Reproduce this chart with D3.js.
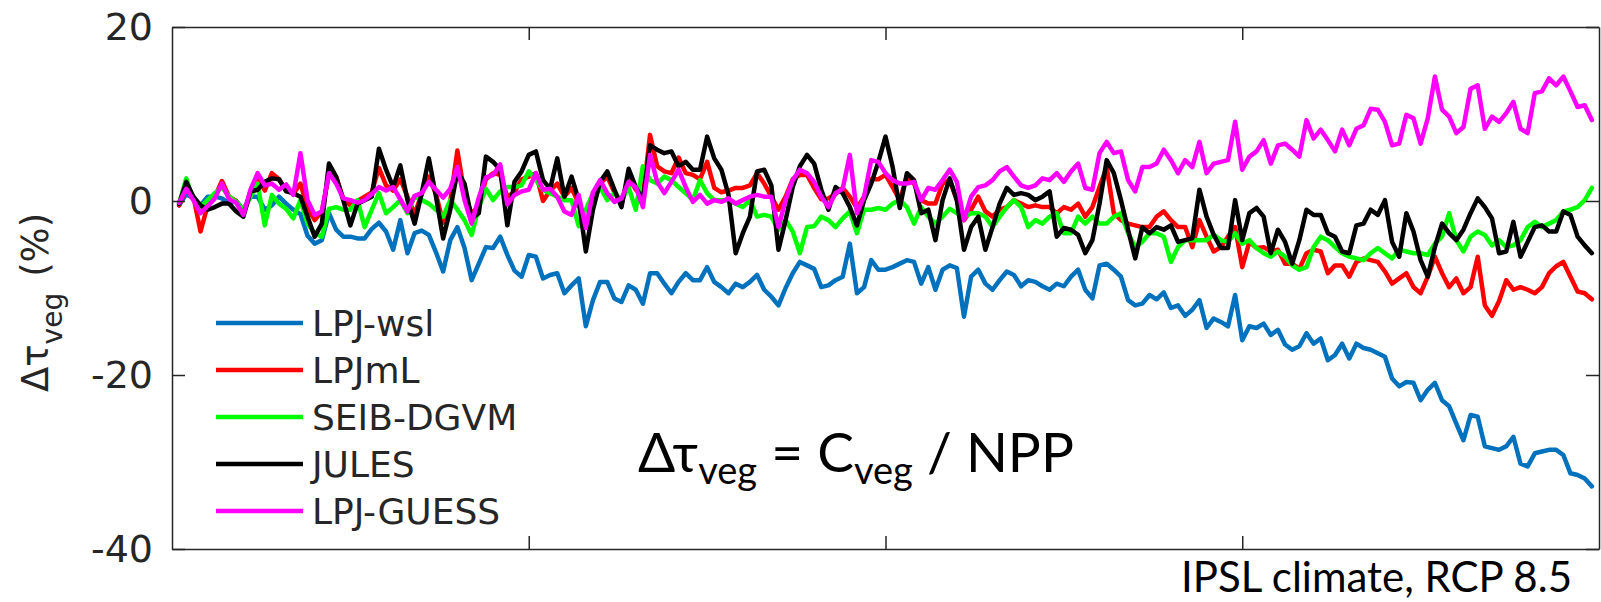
<!DOCTYPE html>
<html>
<head>
<meta charset="utf-8">
<script src="https://cdn.jsdelivr.net/npm/d3@7"></script>
<style>
  html, body { margin: 0; padding: 0; background: #fff; }
  svg { display: block; }
</style>
</head>
<body>
<svg id="chart" width="1601" height="602"></svg>
<script>
// Annual change in vegetation carbon residence time (%), 1901-2099
const years = d3.range(1901, 2100);

const lpjWsl = [
  -0.5, 0.8, 0.3, -0.5, 0.5, 0.5, 0.3, -0.3, 0.0, -1.0, 0.5, 0.5, -1.0, -0.5, 0.5, -0.3, -1.0, -1.5, -4.0, -4.9,
  -4.5, -1.4, -3.3, -4.1, -4.1, -4.3, -4.3, -3.2, -2.5, -3.5, -5.6, -2.2, -6.0, -3.7, -3.4, -3.9, -5.9, -8.1, -4.5, -3.0,
  -5.4, -9.1, -7.2, -5.3, -5.4, -4.1, -6.2, -8.0, -8.7, -6.2,
  -6.4, -8.9, -8.5, -8.3, -10.6, -9.7, -8.9, -14.4, -11.4, -9.3, -9.3, -11.2, -11.6, -9.7, -10.2, -11.8, -8.3, -8.3, -9.5, -10.6,
  -9.3, -8.3, -9.1, -9.1, -7.6, -9.3, -9.9, -10.6, -9.5, -9.9, -9.3, -8.5, -10.2, -11.0, -12.0, -10.0, -8.3, -7.0, -7.4, -7.8,
  -9.9, -9.7, -9.1, -8.7, -4.9, -10.6, -9.9, -6.8, -7.9, -7.9,
  -7.6, -7.2, -6.8, -7.0, -9.5, -7.6, -10.2, -7.9, -7.4, -7.7, -13.3, -8.7, -7.9, -9.5, -10.2, -9.1, -8.1, -8.5, -9.8, -9.1,
  -9.3, -9.8, -10.2, -9.5, -9.8, -8.7, -7.9, -10.2, -11.2, -7.4, -7.2, -7.9, -8.7, -11.4, -12.0, -11.8, -10.8, -11.3, -10.5, -12.3,
  -12.0, -13.2, -12.5, -11.4, -14.6, -13.5, -13.9, -14.4, -10.8, -16.0,
  -14.4, -14.6, -14.1, -15.4, -14.8, -16.5, -17.1, -16.7, -15.2, -16.4, -15.8, -18.3, -17.7, -16.4, -18.1, -16.4, -16.9, -17.1, -17.5, -17.9,
  -20.4, -21.3, -20.8, -20.9, -22.9, -21.7, -20.9, -22.9, -23.6, -25.6, -27.5, -24.6, -24.8, -28.2, -28.4, -28.6, -28.2, -27.1, -30.2, -30.5,
  -29.0, -28.8, -28.6, -28.6, -29.2, -31.3, -31.5, -31.9, -32.8
];

const lpjml = [
  -0.5, 1.5, 0.5, -3.5, -0.5, 0.5, 2.3, 0.5, 0.0, -1.5, 0.8, 2.8, 1.2, 3.2, 2.5, 1.3, 0.8, 2.0, -0.8, -2.2,
  -1.2, 3.0, 2.8, 0.3, -0.5, 0.0, 0.5, 1.0, 3.8, 1.8, 1.2, 2.5, 0.5, -1.5, 0.8, 2.8, 0.8, -2.5, 0.0, 5.8,
  0.8, -1.5, -0.5, 2.5, 3.2, 3.0, 0.5, 1.0, 2.5, 2.8,
  3.2, 0.0, 1.2, 2.0, 0.5, 1.5, -0.3, -3.0, -0.5, 2.0, 2.8, 1.0, -0.3, 2.8, 1.3, 0.5, 7.6, 4.0, 3.4, 3.2,
  5.0, 3.2, 3.0, 2.5, 4.5, 1.5, 1.0, 1.2, 1.5, 1.5, 1.8, 3.2, 2.0, 0.5, -1.0, 0.5, 2.5, 3.0, 3.0, 1.5,
  0.2, 0.3, 0.8, 1.5, 0.5, -0.8, 0.5, 2.5, 2.5, 3.0,
  1.6, 0.1, 2.8, 2.0, 0.1, -0.3, -0.3, 2.0, 2.4, 0.1, -2.2, -1.0, 0.5, -1.2, -1.8, -1.0, -0.7, 0.1, -0.3, -0.7,
  -0.5, -0.7, -0.7, -1.4, -0.7, -1.0, -0.3, -1.8, -0.7, 1.6, 3.9, -1.4, -2.2, -2.6, -2.8, -3.0, -3.0, -1.8, -1.2, -2.2,
  -3.0, -3.0, -5.3, -2.2, -4.1, -5.8, -5.3, -4.1, -3.0, -7.6,
  -4.7, -5.4, -5.3, -5.8, -5.6, -7.2, -7.2, -7.8, -6.0, -5.6, -5.8, -8.3, -7.4, -7.4, -8.7, -7.0, -6.6, -6.8, -7.0, -8.1,
  -9.5, -8.9, -8.3, -9.9, -10.6, -8.7, -6.4, -8.3, -9.9, -8.9, -10.6, -9.9, -6.4, -12.0, -13.2, -11.5, -9.1, -10.2, -9.9, -10.2,
  -10.6, -9.9, -8.3, -7.5, -7.0, -8.7, -10.4, -10.6, -11.3
];

const seibDgvm = [
  -0.3, 2.6, 0.1, -0.7, 0.1, 0.9, 1.6, 0.5, -0.1, -1.0, 0.5, 2.0, -2.8, 0.7, -0.3, -0.9, -2.0, 0.1, -2.6, -3.7,
  -4.1, -0.9, -0.7, -1.0, -1.0, 0.1, -3.0, -1.0, 0.9, -1.4, -0.7, 0.1, -1.4, 0.5, 0.1, -0.3, -1.0, -1.8, 0.1, -1.0,
  -2.2, -3.9, -0.7, 1.4, 0.1, 1.1, 1.6, 1.6, 1.8, 3.4,
  2.4, 1.3, 0.9, 0.5, 0.1, 0.1, -2.9, -1.0, 0.9, 1.6, 0.1, 0.9, 0.1, 1.6, -1.0, 4.0, 2.4, 2.0, 2.8, 2.4,
  1.6, 0.9, 0.1, 2.4, 0.9, 0.1, 0.1, 0.1, -0.3, -0.7, 0.1, -1.8, -1.6, -1.8, -3.3, -2.2, -3.5, -6.0, -3.0, -2.9,
  -1.8, -2.2, -3.0, -2.0, -1.2, -3.7, -1.0, -1.0, -0.8, -1.0,
  -0.3, 0.1, -0.7, -2.6, -0.7, -1.8, -2.6, -1.8, -0.9, -1.4, -1.8, -1.4, -1.4, -1.8, -3.0, -1.8, -0.7, 0.1, -0.7, -3.0,
  -2.2, -2.6, -1.8, -1.4, -3.7, -3.7, -1.8, -2.6, -1.8, -2.6, -2.6, -1.8, -1.4, -3.7, -5.3, -4.7, -3.7, -3.7, -4.1, -7.0,
  -5.3, -4.5, -4.5, -4.5, -4.5, -3.9, -4.5, -4.7, -3.7, -4.9,
  -4.5, -5.4, -6.0, -6.4, -5.8, -6.4, -7.4, -7.9, -7.6, -5.3, -4.1, -4.5, -5.3, -6.0, -6.4, -6.6, -6.8, -6.0, -5.4, -6.0,
  -6.6, -5.6, -5.8, -6.0, -6.0, -6.2, -4.9, -4.1, -1.4, -4.5, -5.8, -4.1, -3.5, -3.9, -5.1, -4.5, -5.3, -5.1, -4.5, -3.0,
  -2.4, -3.0, -2.6, -2.2, -1.2, -1.0, -0.7, 0.1, 1.5
];

const jules = [
  -0.3, 2.2, 0.5, -0.5, -1.0, -0.7, -0.3, -0.3, -1.2, -1.8, 1.1, 1.3, 2.2, 2.6, 2.5, 1.1, 0.9, 0.5, -1.8, -4.1,
  -2.6, 4.3, 2.8, 0.1, -2.8, -0.3, 0.1, 0.5, 6.0, 3.6, 1.6, 4.1, 0.1, -2.6, 0.9, 4.9, 0.5, -4.3, -1.0, 3.4,
  2.0, -2.0, -1.4, 5.1, 4.5, 3.6, -2.8, 2.2, 3.4, 5.3,
  5.7, 2.4, 1.4, 4.9, 0.5, 2.8, 0.1, -5.8, -1.0, 2.2, 3.4, 1.3, -0.7, 3.7, 1.6, 0.1, 6.4, 5.9, 5.5, 5.7,
  4.0, 4.5, 3.6, 3.6, 7.4, 4.9, 3.6, 0.7, -6.0, -3.7, -1.8, 3.4, 3.6, 1.8, -5.6, -2.2, 1.6, 4.0, 5.3, 4.3,
  1.3, -1.0, 1.6, 0.9, -0.7, -2.8, 0.1, 2.0, 4.5, 7.4,
  3.9, -0.8, 3.2, 2.4, -1.4, -1.0, -4.5, 0.1, 2.6, 0.1, -5.6, -3.0, -1.8, -5.6, -3.0, -0.3, 1.5, 0.7, 0.9, 0.7,
  0.1, 0.5, 1.1, -4.1, -3.1, -3.3, -3.9, -6.0, -4.5, -0.3, 4.7, 3.2, 0.1, -3.3, -6.6, -3.0, -3.7, -3.0, -3.3, -2.8,
  -4.7, -4.5, -4.3, 1.3, -1.8, -3.9, -5.4, -5.4, 0.1, -4.5,
  -1.4, -0.8, -1.8, -6.0, -3.3, -4.7, -7.2, -4.5, -1.0, -1.6, -1.6, -3.7, -4.1, -5.8, -6.0, -2.8, -2.6, -1.0, -1.6, 0.1,
  -4.7, -6.4, -1.4, -3.5, -6.8, -8.7, -5.3, -2.6, -3.7, -4.5, -3.3, -1.4, 0.3, -0.7, -2.0, -6.0, -5.8, -2.4, -6.4, -4.7,
  -3.0, -2.8, -3.5, -3.5, -1.2, -1.6, -4.1, -5.1, -6.0
];

const lpjGuess = [
  -0.2, 1.4, 0.1, -1.4, -0.6, 0.3, 2.0, 0.2, -0.2, -1.6, 1.3, 3.2, 1.8, 2.0, 1.3, 1.9, 0.7, 5.5, 0.1, -1.6,
  -1.2, 3.2, 2.0, 0.3, 0.1, -0.2, 0.1, 0.8, 1.6, 1.2, 1.6, 0.2, -1.2, 0.6, 0.9, 2.2, 1.3, 0.4, 1.4, 3.9,
  0.1, -2.6, 0.4, 2.7, 3.0, 4.2, -0.4, 0.7, 1.1, 1.3,
  3.2, 1.3, 1.4, 0.5, -1.2, -1.6, 0.7, -3.1, 1.0, 2.4, 0.9, -0.1, 0.3, 2.2, 1.6, -0.7, 5.3, 2.2, 0.9, 2.2,
  3.6, 1.6, -0.1, 0.7, -0.3, 0.1, -0.1, 0.3, -0.3, 0.1, 0.5, 0.7, 0.5, 0.5, -3.0, 0.1, 2.4, 3.6, 3.2, 2.2,
  0.5, -0.7, 0.9, 1.4, 5.3, -1.4, 0.5, 4.7, 4.5, 3.2,
  2.4, 2.0, 2.0, 2.2, 0.1, 1.5, 1.3, 2.4, 3.6, 2.2, -2.2, 0.5, 1.6, 1.8, 2.4, 3.4, 3.9, 2.8, 1.8, 1.5,
  1.8, 2.6, 2.4, 3.2, 2.2, 3.4, 4.3, 1.5, 1.3, 5.5, 6.8, 5.5, 5.7, 2.4, 1.1, 3.9, 3.9, 4.3, 5.9, 4.7,
  3.2, 4.7, 3.9, 6.8, 3.2, 4.3, 4.5, 4.7, 9.1, 3.6,
  5.1, 5.7, 7.0, 4.3, 6.4, 6.6, 5.9, 5.1, 9.3, 7.2, 8.2, 7.0, 5.7, 8.2, 6.4, 8.3, 8.7, 10.6, 10.5, 9.1,
  6.4, 6.6, 9.9, 9.5, 6.6, 9.5, 14.3, 10.5, 9.7, 7.8, 8.5, 12.9, 13.3, 8.3, 9.7, 9.1, 10.1, 11.4, 8.3, 7.8,
  12.4, 12.6, 14.1, 13.3, 14.3, 12.6, 10.8, 11.0, 9.3
];

const modelNames = ["LPJ-wsl", "LPJmL", "SEIB-DGVM", "JULES", "LPJ-GUESS"];
const modelColors = ["#0072BD", "#FF0000", "#00FF00", "#000000", "#FF00FF"];
const yTickValues = [-40, -20, 0, 20];
const xTickValues = [1950, 2000, 2050];

const series = [lpjWsl, lpjml, seibDgvm, jules, lpjGuess].map((vals, i) => ({
  name: modelNames[i],
  color: modelColors[i],
  points: years.map((yr, j) => ({ year: yr, value: vals[j] })).filter(p => p.value !== undefined)
}));

const svg = d3.select("#chart");
const plot = { left: 172, right: 1599, top: 27, bottom: 549 };
const axisColor = "#262626";

const x = d3.scaleLinear().domain([1900, 2100]).range([plot.left, plot.right]);
const y = d3.scaleLinear().domain([-40, 20]).range([plot.bottom, plot.top]);

svg.append("defs").append("clipPath").attr("id", "plot-clip")
  .append("rect")
  .attr("x", plot.left).attr("y", plot.top)
  .attr("width", plot.right - plot.left).attr("height", plot.bottom - plot.top);

// model lines
const line = d3.line().x(d => x(d.year)).y(d => y(d.value));
svg.append("g").attr("clip-path", "url(#plot-clip)")
  .selectAll("path")
  .data(series)
  .join("path")
  .attr("d", d => line(d.points))
  .attr("fill", "none")
  .attr("stroke", d => d.color)
  .attr("stroke-width", 4.5)
  .attr("stroke-linejoin", "round")
  .attr("stroke-linecap", "round");

// axes box with inward ticks
function styleAxis(g) {
  g.selectAll(".domain").attr("stroke", axisColor).attr("stroke-width", 1.5);
  g.selectAll(".tick line").attr("stroke", axisColor).attr("stroke-width", 1.5);
  g.selectAll(".tick text")
    .attr("fill", axisColor)
    .attr("font-family", "DejaVu Sans")
    .attr("font-size", 38);
}

svg.append("g")
  .attr("transform", `translate(${plot.left},0)`)
  .call(d3.axisLeft(y).tickValues(yTickValues).tickSizeInner(-13).tickSizeOuter(0)
    .tickPadding(19).tickFormat(d => String(d)))
  .call(styleAxis);

svg.append("g")
  .attr("transform", `translate(${plot.right},0)`)
  .call(d3.axisRight(y).tickValues(yTickValues).tickSizeInner(-13).tickSizeOuter(0).tickFormat(""))
  .call(styleAxis);

svg.append("g")
  .attr("transform", `translate(0,${plot.top})`)
  .call(d3.axisTop(x).tickValues(xTickValues).tickSizeInner(-13).tickSizeOuter(0).tickFormat(""))
  .call(styleAxis);

svg.append("g")
  .attr("transform", `translate(0,${plot.bottom})`)
  .call(d3.axisBottom(x).tickValues(xTickValues).tickSizeInner(-13).tickSizeOuter(0).tickFormat(""))
  .call(styleAxis);

// y-axis title
const yTitle = svg.append("text")
  .attr("transform", "translate(48,392) rotate(-90)")
  .attr("font-family", "DejaVu Sans")
  .attr("font-size", 37)
  .attr("fill", axisColor);
yTitle.append("tspan").text("Δτ");
yTitle.append("tspan").attr("font-size", 28).attr("dy", 14).text("veg");
yTitle.append("tspan").attr("dy", -14).attr("dx", 16).text("(%)");

// legend
const legend = svg.append("g");
const legendRow = i => 323 + 47 * i;
series.forEach((s, i) => {
  legend.append("line")
    .attr("x1", 216).attr("x2", 303)
    .attr("y1", legendRow(i)).attr("y2", legendRow(i))
    .attr("stroke", s.color).attr("stroke-width", 4.5);
  legend.append("text")
    .attr("x", 312).attr("y", legendRow(i) + 13)
    .attr("font-family", "DejaVu Sans").attr("font-size", 36)
    .attr("fill", axisColor)
    .text(s.name);
});

// formula annotation
const formula = svg.append("text")
  .attr("x", 638).attr("y", 472)
  .attr("font-family", "Lato")
  .attr("font-size", 55)
  .attr("fill", "#000");
formula.append("tspan").text("Δτ");
formula.append("tspan").attr("font-size", 38).attr("dy", 12).text("veg");
formula.append("tspan").attr("dy", -12).text(" = C");
formula.append("tspan").attr("font-size", 38).attr("dy", 12).text("veg");
formula.append("tspan").attr("dy", -12).text(" / NPP");

// scenario caption
svg.append("text")
  .attr("x", 1572).attr("y", 592)
  .attr("text-anchor", "end")
  .attr("font-family", "Lato")
  .attr("font-size", 42)
  .attr("fill", "#000")
  .text("IPSL climate, RCP 8.5");
</script>
</body>
</html>
